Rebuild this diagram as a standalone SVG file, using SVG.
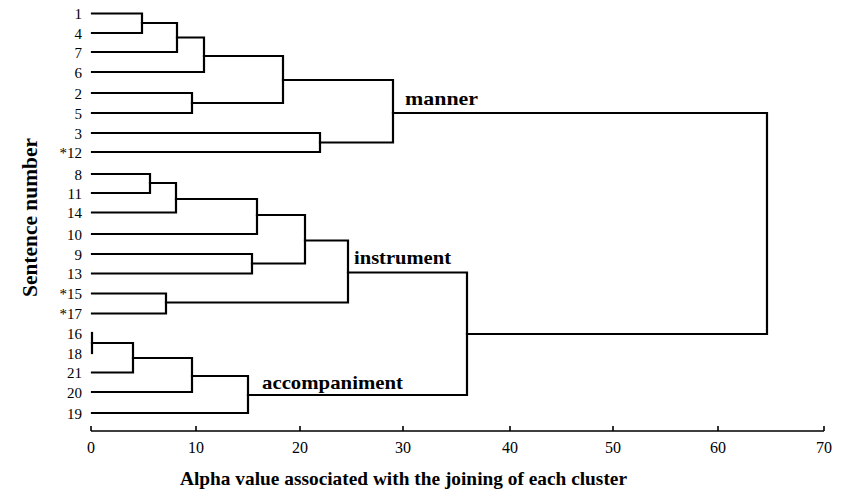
<svg xmlns="http://www.w3.org/2000/svg" width="845" height="493" viewBox="0 0 845 493">
<style>
.ln{fill:none;stroke:#000;stroke-width:2.2;stroke-linejoin:miter;stroke-linecap:square}
.ax{fill:none;stroke:#000;stroke-width:1.6}
.lf{font-family:"Liberation Serif",serif;font-size:15px;text-anchor:end;fill:#000}
.tk{font-family:"Liberation Serif",serif;font-size:16px;text-anchor:middle;fill:#000}
.cl{font-family:"Liberation Serif",serif;font-size:19px;font-weight:bold;fill:#000}
.tt{font-family:"Liberation Serif",serif;font-size:19px;font-weight:bold;fill:#000}
</style>
<rect width="845" height="493" fill="#fff"/>
<g id="leaves">
<text class="lf" x="82" y="19">1</text>
<text class="lf" x="82" y="38.5">4</text>
<text class="lf" x="82" y="57.5">7</text>
<text class="lf" x="82" y="77.5">6</text>
<text class="lf" x="82" y="98.5">2</text>
<text class="lf" x="82" y="118.5">5</text>
<text class="lf" x="82" y="138.5">3</text>
<text class="lf" x="82" y="157.5">*12</text>
<text class="lf" x="82" y="179.5">8</text>
<text class="lf" x="82" y="198.5">11</text>
<text class="lf" x="82" y="218">14</text>
<text class="lf" x="82" y="239.5">10</text>
<text class="lf" x="82" y="259.5">9</text>
<text class="lf" x="82" y="279">13</text>
<text class="lf" x="82" y="299">*15</text>
<text class="lf" x="82" y="319">*17</text>
<text class="lf" x="82" y="339">16</text>
<text class="lf" x="82" y="358.5">18</text>
<text class="lf" x="82" y="378">21</text>
<text class="lf" x="82" y="397.5">20</text>
<text class="lf" x="82" y="418.5">19</text>
</g>
<g id="connectors">
<path class="ln" d="M92,13.5 H142 V33 H92"/>
<path class="ln" d="M142,23 H177 V52 H92"/>
<path class="ln" d="M177,37.5 H204 V72 H92"/>
<path class="ln" d="M92,93 H192 V113 H92"/>
<path class="ln" d="M204,56 H283 V103 H192"/>
<path class="ln" d="M92,133 H320 V152 H92"/>
<path class="ln" d="M283,80 H393 V142.5 H320"/>
<path class="ln" d="M393,113 H767 V334 H467"/>
<path class="ln" d="M92,174 H150 V193 H92"/>
<path class="ln" d="M150,183 H176 V212.5 H92"/>
<path class="ln" d="M176,199 H257 V234 H92"/>
<path class="ln" d="M92,254 H252 V273.5 H92"/>
<path class="ln" d="M257,215 H305 V263.5 H252"/>
<path class="ln" d="M92,293.5 H166 V313.5 H92"/>
<path class="ln" d="M305,240.5 H348 V302.5 H166"/>
<path class="ln" d="M348,272.5 H467 V395 H248"/>
<path class="ln" d="M92,333 V353"/>
<path class="ln" d="M92,343 H133 V372.5 H92"/>
<path class="ln" d="M133,358 H192 V392 H92"/>
<path class="ln" d="M192,376 H248 V413 H92"/>
</g>
<g id="cluster-labels">
<text class="cl" x="405" y="105" textLength="73" lengthAdjust="spacingAndGlyphs">manner</text>
<text class="cl" x="354" y="264" textLength="97" lengthAdjust="spacingAndGlyphs">instrument</text>
<text class="cl" x="262" y="389" textLength="141" lengthAdjust="spacingAndGlyphs">accompaniment</text>
</g>
<g id="x-axis">
<path class="ax" d="M91,431 H824 M91,431 V426 M196,431 V426 M300,431 V426 M403,431 V426 M510,431 V426 M613,431 V426 M718,431 V426 M824,431 V426"/>
<text class="tk" x="91" y="453">0</text>
<text class="tk" x="196" y="453">10</text>
<text class="tk" x="300" y="453">20</text>
<text class="tk" x="403" y="453">30</text>
<text class="tk" x="510" y="453">40</text>
<text class="tk" x="613" y="453">50</text>
<text class="tk" x="718" y="453">60</text>
<text class="tk" x="824" y="453">70</text>
<text class="tt" x="180" y="485" textLength="447" lengthAdjust="spacingAndGlyphs">Alpha value associated with the joining of each cluster</text>
</g>
<g id="y-axis">
<text class="tt" x="0" y="0" style="font-size:22px" textLength="159" lengthAdjust="spacingAndGlyphs" transform="translate(37,297) rotate(-90)">Sentence number</text>
</g>
</svg>
